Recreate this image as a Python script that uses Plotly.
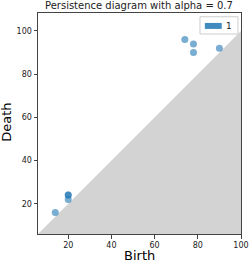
import plotly.graph_objects as go

births = [14, 20, 20, 20, 74, 78, 78, 90]
deaths = [16, 22, 24, 24, 96, 94, 90, 92]
x_range = [6, 100]
y_range = [6, 108.3]
tick_vals = [20, 40, 60, 80, 100]
title_text = "Persistence diagram with alpha = 0.7"
x_label = "Birth"
y_label = "Death"
legend_label = "1"

lo, hi = x_range
fig = go.Figure()
fig.add_trace(go.Scatter(
    x=[lo, hi, hi, lo], y=[lo, hi, lo, lo], mode="none", fill="toself",
    fillcolor="#d3d3d3", showlegend=False, hoverinfo="skip"))
fig.add_trace(go.Scatter(
    x=births, y=deaths, mode="markers",
    marker=dict(size=7, color="rgba(31,119,180,0.6)", line=dict(width=0)),
    showlegend=False))

font = "DejaVu Sans"
axis_common = dict(
    showgrid=False, zeroline=False, showline=True, linecolor="#444", linewidth=1,
    mirror=True, ticks="outside", ticklen=3.5, tickwidth=0.8, tickcolor="#444",
    automargin=False,
    tickvals=tick_vals, tickfont=dict(family=font, size=8, color="#222"))

fig.update_layout(
    width=249, height=262,
    margin=dict(l=38, r=8, t=13, b=28),
    plot_bgcolor="white", paper_bgcolor="white",
    title=dict(text=title_text, x=0.558, xanchor="center", y=0.979, yanchor="middle",
               font=dict(family=font, size=10, color="#222")),
    xaxis=dict(range=x_range, **axis_common),
    yaxis=dict(range=y_range, **axis_common),
)

# axis labels
fig.add_annotation(text=x_label, xref="paper", yref="paper", x=0.5, y=-0.0973,
                   showarrow=False, xanchor="center", yanchor="middle", borderpad=0,
                   font=dict(family=font, size=13, color="black"))
fig.add_annotation(text=y_label, xref="paper", yref="paper", x=-0.156, y=0.5045,
                   showarrow=False, xanchor="center", yanchor="middle", textangle=-90,
                   borderpad=0, font=dict(family=font, size=13, color="black"))

# legend box drawn manually (matplotlib-style patch)
fig.add_shape(type="rect", xref="paper", yref="paper", x0=0.798, x1=0.985, y0=0.905, y1=0.983,
              line=dict(color="#cccccc", width=1), fillcolor="rgba(255,255,255,0.8)", layer="above")
fig.add_shape(type="rect", xref="paper", yref="paper", x0=0.822, x1=0.905, y0=0.928, y1=0.955,
              line=dict(width=0), fillcolor="rgba(31,119,180,0.85)", layer="above")
fig.add_annotation(text=legend_label, xref="paper", yref="paper", x=0.94, y=0.942,
                   showarrow=False, xanchor="center", yanchor="middle",
                   font=dict(family=font, size=9, color="#222"))

fig.write_html("out.html", config={"displayModeBar": False},
               post_script="document.body.style.margin='0';document.body.style.overflow='hidden';")
